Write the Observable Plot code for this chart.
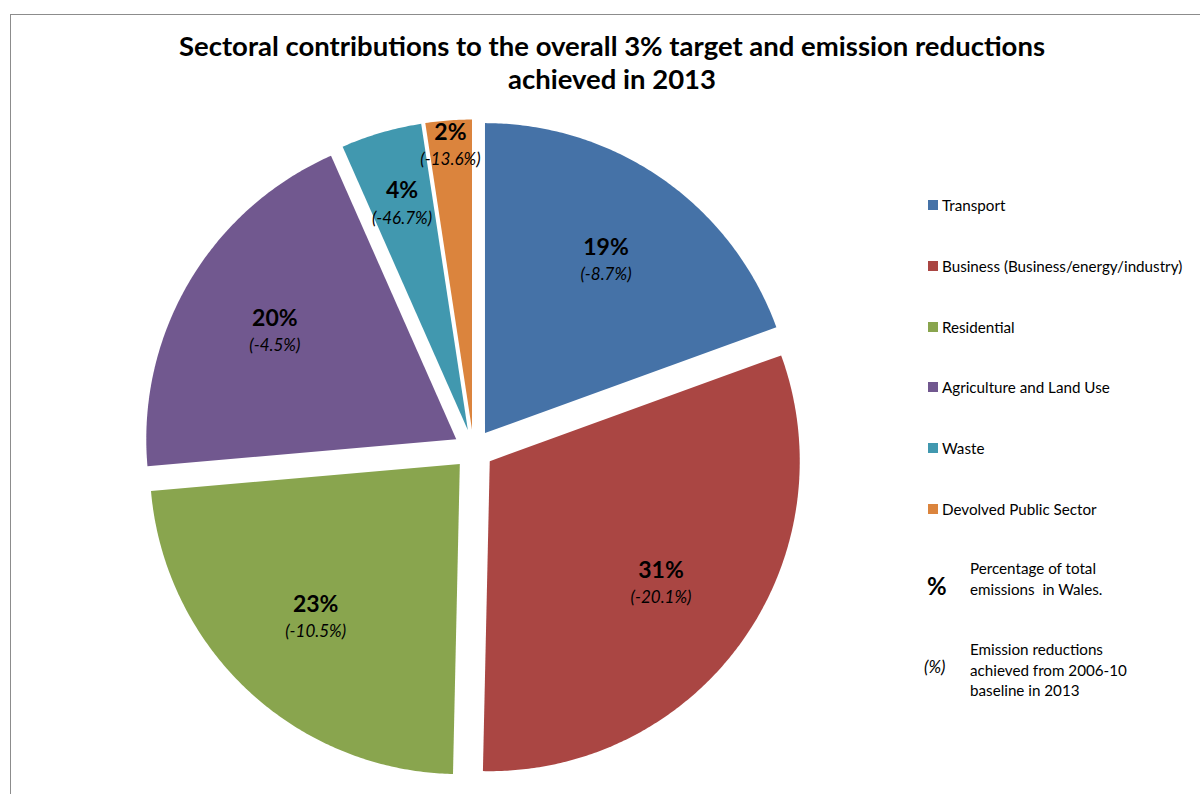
<!DOCTYPE html>
<html>
<head>
<meta charset="utf-8">
<script src="https://cdn.jsdelivr.net/npm/d3@7"></script>
<script src="https://cdn.jsdelivr.net/npm/@observablehq/plot@0.6"></script>
<style>
  html, body { margin: 0; padding: 0; background: #fff; }
  #wrap { position: relative; width: 1200px; height: 794px; overflow: hidden; font-family: Lato, "Open Sans", sans-serif; color: #000; }
  #frame { position: absolute; left: 10px; top: 14px; width: 1300px; height: 900px; border-left: 1.5px solid #8c8c8c; border-top: 1.5px solid #8c8c8c; }
  #chart { position: absolute; left: 0; top: 0; }
  #title { position: absolute; left: 112px; width: 1000px; top: 29px; text-align: center; font-weight: 700; font-size: 27.5px; line-height: 33px; }
  .leg { position: absolute; left: 928px; font-size: 15.2px; display: flex; align-items: center; }
  .sw { width: 10px; height: 10px; margin-right: 4px; display: inline-block; }
  .note { position: absolute; font-size: 15.2px; line-height: 20.5px; }
</style>
</head>
<body>
<div id="wrap">
  <div id="frame"></div>
  <div id="chart"></div>
  <div id="title">Sectoral contributions to the overall 3% target and emission reductions<br>achieved in 2013</div>
  <div id="legend"></div>
</div>
<script>
// ---- data ----
const sectors = ["Transport", "Business (Business/energy/industry)", "Residential", "Agriculture and Land Use", "Waste", "Devolved Public Sector"];
const shares = [19.4, 30.8, 23.2, 19.7, 4.2, 2.4];           // % of total emissions in Wales
const shareLabels = ["19%", "31%", "23%", "20%", "4%", "2%"];
const reductions = [-8.7, -20.1, -10.5, -4.5, -46.7, -13.6];  // % reduction vs 2006-10 baseline
const colors = ["#4572A7", "#AA4643", "#89A54E", "#71588F", "#4198AF", "#DB843D"];

// ---- geometry (pie in unit coordinates; scales map to pixels) ----
const cx = 473, cy = 449, R = 310;
const explode = 20 / R;
const total = d3.sum(shares);
let acc = 0;
const slices = sectors.map((s, i) => {
  const a0 = acc / total * 2 * Math.PI;
  acc += shares[i];
  const a1 = acc / total * 2 * Math.PI;
  const m = (a0 + a1) / 2;
  const ox = explode * Math.sin(m), oy = explode * Math.cos(m);
  const span = (a1 - a0) * 180 / Math.PI;
  const f = span < 12 ? 0.92 : span < 20 ? 0.76 : 0.68;
  return {sector: s, i, a0, a1, m, ox, oy, lx: ox + f * Math.sin(m), ly: oy + f * Math.cos(m)};
});
const pts = [];
for (const sl of slices) {
  pts.push({sector: sl.sector, x: sl.ox, y: sl.oy});
  const n = Math.max(8, Math.ceil((sl.a1 - sl.a0) / (Math.PI / 360)));
  for (let k = 0; k <= n; k++) {
    const a = sl.a0 + (sl.a1 - sl.a0) * k / n;
    pts.push({sector: sl.sector, x: sl.ox + Math.sin(a), y: sl.oy + Math.cos(a)});
  }
}
const labels = slices.map(sl => ({x: sl.lx, y: sl.ly, pct: shareLabels[sl.i], red: `(${reductions[sl.i].toFixed(1)}%)`}));

const chart = Plot.plot({
  width: 1200, height: 794, margin: 0,
  x: {domain: [-1, 1], range: [cx - R, cx + R], axis: null},
  y: {domain: [-1, 1], range: [cy + R, cy - R], axis: null},
  color: {domain: sectors, range: colors},
  style: {background: "transparent"},
  marks: [
    Plot.line(pts, {x: "x", y: "y", z: "sector", fill: "sector", stroke: null, curve: "linear-closed"}),
    Plot.text(labels, {x: "x", y: "y", text: "pct", dy: -13, fontSize: 23, fontWeight: "bold", fontFamily: "Lato, sans-serif", fill: "#000"}),
    Plot.text(labels, {x: "x", y: "y", text: "red", dy: 14, fontSize: 17, fontStyle: "italic", fontFamily: "Lato, sans-serif", fill: "#000"})
  ]
});
document.getElementById("chart").appendChild(chart);

// ---- legend ----
const leg = document.getElementById("legend");
const legTop = 206, legStep = 60.8;
sectors.forEach((s, i) => {
  const d = document.createElement("div");
  d.className = "leg";
  d.style.top = (legTop + i * legStep - 10) + "px";
  d.innerHTML = `<span class="sw" style="background:${colors[i]}"></span><span>${s}</span>`;
  leg.appendChild(d);
});
const n1 = document.createElement("div");
n1.className = "note"; n1.style.left = "927px"; n1.style.top = "576px";
n1.innerHTML = `<span style="font-weight:700;font-size:24px">%</span>`;
leg.appendChild(n1);
const n2 = document.createElement("div");
n2.className = "note"; n2.style.left = "970px"; n2.style.top = "558px";
n2.innerHTML = "Percentage of total<br>emissions&nbsp; in Wales.";
leg.appendChild(n2);
const n3 = document.createElement("div");
n3.className = "note"; n3.style.left = "924px"; n3.style.top = "657px";
n3.innerHTML = `<span style="font-style:italic;font-size:17px">(%)</span>`;
leg.appendChild(n3);
const n4 = document.createElement("div");
n4.className = "note"; n4.style.left = "970px"; n4.style.top = "639px";
n4.innerHTML = "Emission reductions<br>achieved from 2006-10<br>baseline in 2013";
leg.appendChild(n4);
</script>
</body>
</html>
